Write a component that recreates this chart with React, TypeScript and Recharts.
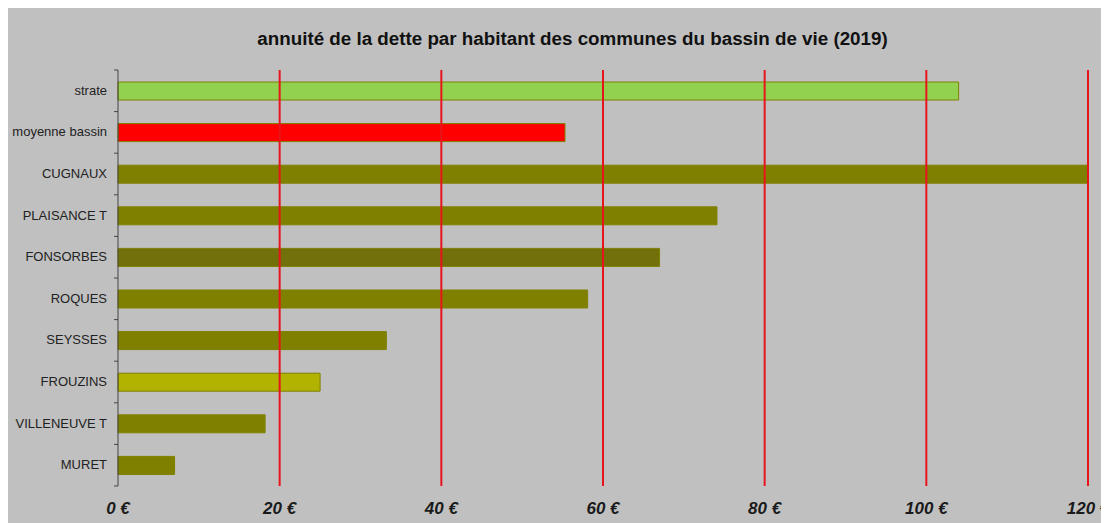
import { BarChart, Bar, XAxis, YAxis, Cell, ReferenceLine } from 'recharts';

const communes = [
  'strate',
  'moyenne bassin',
  'CUGNAUX',
  'PLAISANCE T',
  'FONSORBES',
  'ROQUES',
  'SEYSSES',
  'FROUZINS',
  'VILLENEUVE T',
  'MURET',
];
const annuite = [104, 55.3, 120, 74.1, 67, 58.1, 33.2, 25, 18.2, 7];
const barColors = [
  '#92d050',
  '#ff0000',
  '#808000',
  '#808000',
  '#72700a',
  '#808000',
  '#808000',
  '#b2b300',
  '#808000',
  '#808000',
];
const xTicks = [0, 20, 40, 60, 80, 100, 120];

const data = communes.map((c, i) => ({ name: c, value: annuite[i] }));

const W = 1101;
const H = 516;
const BAND = 41.6;

// tick x sits 8px left of the axis line
const CategoryTick = ({ x, y, payload, index }: any) => (
  <g>
    <text x={x - 3} y={y} dy={4} textAnchor="end" fontSize={13} fill="#222" fontFamily="Liberation Sans, Arial, sans-serif">
      {payload.value}
    </text>
    <line x1={x + 4} x2={x + 8} y1={y - BAND / 2} y2={y - BAND / 2} stroke="#444" />
    {index === communes.length - 1 && (
      <line x1={x + 4} x2={x + 8} y1={y + BAND / 2} y2={y + BAND / 2} stroke="#444" />
    )}
  </g>
);

export default function App() {
  return (
    <div style={{ position: 'relative', width: W, height: H, background: '#c0c0c0', fontFamily: 'Liberation Sans, Arial, sans-serif' }}>
      <div
        style={{
          position: 'absolute',
          top: 20,
          left: 28,
          width: W - 28,
          textAlign: 'center',
          fontWeight: 'bold',
          fontSize: 18.8,
          color: '#111',
        }}
      >
        annuité de la dette par habitant des communes du bassin de vie (2019)
      </div>
      <BarChart
        width={W}
        height={H}
        data={data}
        layout="vertical"
        margin={{ top: 62, right: 21, bottom: 0, left: 0 }}
        barCategoryGap={0}
      >
        <XAxis
          type="number"
          domain={[0, 120]}
          ticks={xTicks}
          axisLine={false}
          tickLine={false}
          height={38}
          tickMargin={10}
          tick={{ fontSize: 17, fontWeight: 'bold', fontStyle: 'italic', fill: '#1a1a1a' }}
          tickFormatter={(v) => `${v} €`}
        />
        <YAxis
          type="category"
          dataKey="name"
          width={110}
          axisLine={{ stroke: '#444' }}
          tickLine={false}
          tick={<CategoryTick />}
          interval={0}
        />
        {xTicks.slice(1).map((t) => (
          <ReferenceLine key={t} x={t} stroke="#e8141c" strokeWidth={2} />
        ))}
        <Bar dataKey="value" barSize={18} stroke="#808000" strokeWidth={1} isAnimationActive={false}>
          {data.map((d, i) => (
            <Cell key={d.name} fill={barColors[i]} />
          ))}
        </Bar>
      </BarChart>
    </div>
  );
}
